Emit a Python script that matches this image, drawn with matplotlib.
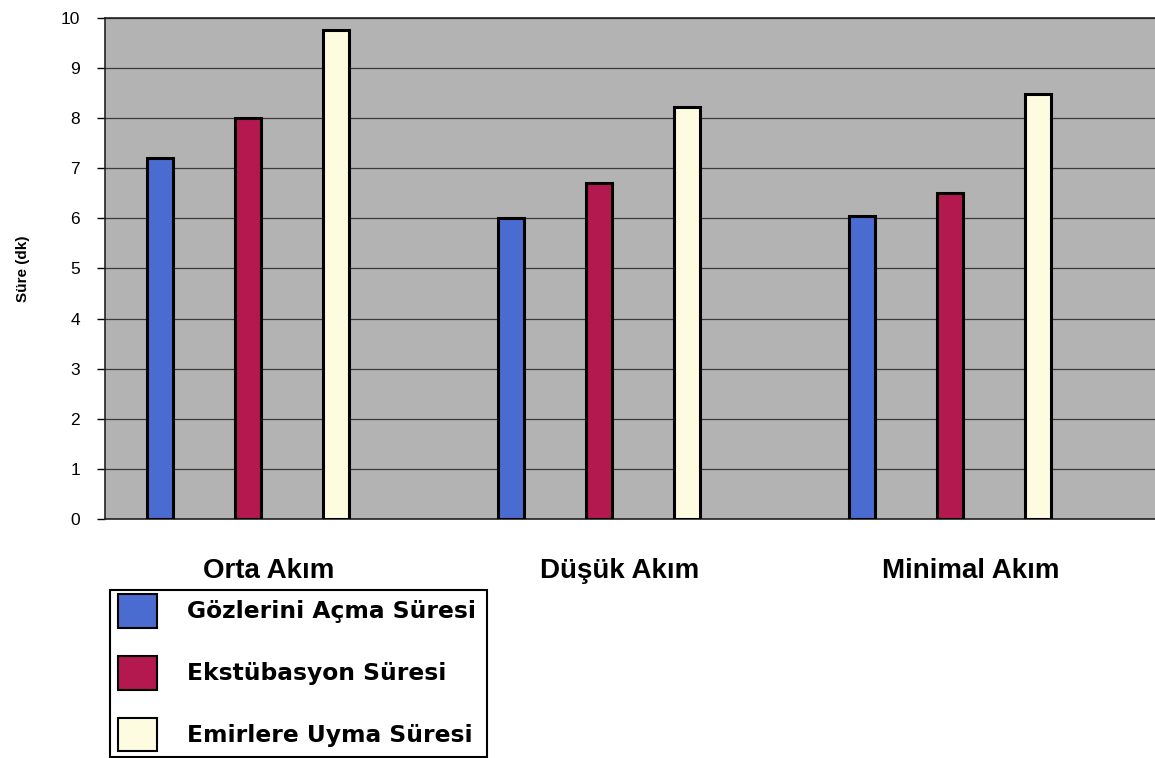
import numpy as np
import matplotlib.pyplot as plt
from matplotlib.patches import Patch, Rectangle

plt.rcParams["font.family"] = ["Liberation Sans", "DejaVu Sans"]

groups = ["Orta Akım", "Düşük Akım", "Minimal Akım"]
series = ["Gözlerini Açma Süresi", "Ekstübasyon Süresi", "Emirlere Uyma Süresi"]
goz_acma = [7.2, 6.0, 6.05]
ekstubasyon = [8.0, 6.7, 6.5]
emir_uyma = [9.75, 8.22, 8.48]
yticks = list(range(0, 11))

colors = ["#4a6bd0", "#b3184e", "#fdfbe0"]
values = [goz_acma, ekstubasyon, emir_uyma]

fig = plt.figure(figsize=(11.55, 7.58), dpi=100)
ax = fig.add_axes([0.0909, 0.3153, 0.9091, 0.661])
ax.set_facecolor("#b3b3b3")

x = np.arange(len(groups))
offsets = [-0.25, 0.0, 0.25]
width = 0.074
for vals, off, col, name in zip(values, offsets, colors, series):
    ax.bar(x + off, vals, width, color=col, edgecolor="black", linewidth=2.2,
           zorder=3, label=name)

ax.set_xlim(-0.407, 2.584)
ax.set_ylim(0, 10)
ax.set_yticks(yticks)
ax.set_yticklabels([str(t) for t in yticks], fontsize=12.5)
ax.yaxis.grid(True, color="#3a3a3a", linewidth=0.9, zorder=1)
ax.set_axisbelow(True)

# group names sit a little right of the bar groups
ax.set_xticks(x + 0.06)
ax.set_xticklabels(groups, fontsize=20, fontweight="bold")
ax.tick_params(axis="x", length=0, pad=28)
ax.tick_params(axis="y", length=6, width=1, pad=12)

for side in ["left", "bottom", "top"]:
    ax.spines[side].set_color("#222222")
    ax.spines[side].set_linewidth(1.2)
ax.spines["right"].set_visible(False)

ax.set_ylabel("Süre (dk)", fontsize=11, fontweight="bold", labelpad=22)

# legend entries without their own frame; the box is drawn separately
handles = [Patch(facecolor=c, edgecolor="black", linewidth=1.5) for c in colors]
leg = fig.legend(handles, series, loc="upper left",
                 bbox_to_anchor=(0.1022, 0.2163),
                 prop={"family": "DejaVu Sans", "weight": "bold", "size": 16.8},
                 frameon=False,
                 handlelength=1.65, handleheight=1.85, labelspacing=1.2,
                 handletextpad=1.3, borderpad=0.0, borderaxespad=0)
fig.add_artist(Rectangle((0.0952, 0.0013), 0.3264, 0.2203,
                         transform=fig.transFigure, facecolor="none",
                         edgecolor="black", linewidth=1.5))

fig.savefig("out.png", dpi=100)
